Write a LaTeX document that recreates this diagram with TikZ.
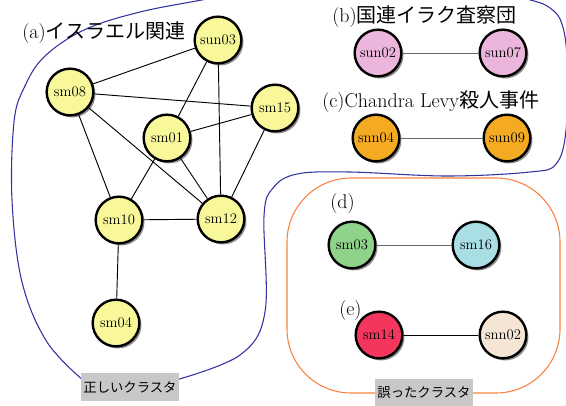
\documentclass[tikz,border=0pt]{standalone}
\usepackage{fontspec}
\newfontfamily\jp{Noto Sans CJK JP}
\usetikzlibrary{shadows}

\definecolor{smyellow}{RGB}{248,248,155}
\definecolor{unpink}{RGB}{236,181,220}
\definecolor{levyorange}{RGB}{244,171,34}
\definecolor{dgreen}{RGB}{143,211,138}
\definecolor{dblue}{RGB}{169,222,229}
\definecolor{ered}{RGB}{244,54,94}
\definecolor{ebeige}{RGB}{245,229,213}
\definecolor{okline}{RGB}{50,50,160}
\definecolor{ngline}{RGB}{250,130,60}
\definecolor{tagbox}{RGB}{200,200,200}

\begin{document}
\begin{tikzpicture}[x=0.75pt,y=-0.75pt,
        vtx/.style={circle,draw,line width=1.8pt,minimum size=35pt,inner sep=0pt,
            font=\fontsize{11}{12}\selectfont,
            drop shadow={shadow xshift=1.6pt,shadow yshift=-1.6pt,fill=black!60,opacity=.75}},
        edge/.style={line width=0.7pt},
        gedge/.style={line width=0.7pt,black!60},
        grp/.style={anchor=west,inner sep=0pt,font=\fontsize{15}{18}\selectfont},
        tag/.style={fill=tagbox,minimum width=73pt,minimum height=21pt,inner sep=0pt,
            font=\jp\fontsize{10}{12}\selectfont}]
    \useasboundingbox (0,0) rectangle (566,405);

    % cluster outlines
    \begin{scope}
        \clip (0,0) rectangle (566,405);
        \draw[okline,line width=0.8pt] plot[smooth,tension=0.6] coordinates {
            (84,381) (47,342) (22,282) (12,200) (14,122) (24,88) (44,57) (84,30)
            (140,12) (212,-2) (300,-20) (450,-20) (527,-1) (550,8) (562,24)
            (567,60) (566,130) (556,164) (530,172) (447,176) (350,172) (297,174)
            (273,188) (264,216) (265,312) (240,355) (176,380)};
    \end{scope}
    \draw[ngline,line width=0.8pt,rounded corners=48pt] (287,178) rectangle (560,393);

    \node[tag] (ok) at (130,387) {正しいクラスタ};
    \node[tag] (ng) at (424,393) {誤ったクラスタ};

    % (a)
    \node[grp] (la) at (22,33) {(a)\jp イスラエル関連};
    \node[vtx,fill=smyellow] (sun03) at (218,40) {sun03};
    \node[vtx,fill=smyellow] (sm08) at (70,92) {sm08};
    \node[vtx,fill=smyellow] (sm15) at (275,108) {sm15};
    \node[vtx,fill=smyellow] (sm01) at (167,138) {sm01};
    \node[vtx,fill=smyellow] (sm10) at (119,220) {sm10};
    \node[vtx,fill=smyellow] (sm12) at (221,219) {sm12};
    \node[vtx,fill=smyellow] (sm04) at (116,323) {sm04};

    % (b)
    \node[grp] (lb) at (332,17) {(b)\jp 国連イラク査察団};
    \node[vtx,fill=unpink] (sun02) at (378,53) {sun02};
    \node[vtx,fill=unpink] (sun07) at (503,53) {sun07};

    % (c)
    \node[grp] (lc) at (322,102) {(c)Chandra Levy\jp 殺人事件};
    \node[vtx,fill=levyorange] (snn04) at (376,138) {snn04};
    \node[vtx,fill=levyorange] (sun09) at (507,138) {sun09};

    % (d)
    \node[grp] (ld) at (330,203) {(d)};
    \node[vtx,fill=dgreen] (sm03) at (352,245) {sm03};
    \node[vtx,fill=dblue] (sm16) at (476,245) {sm16};

    % (e)
    \node[grp] (le) at (339,310) {(e)};
    \node[vtx,fill=ered] (sm14) at (379,335) {sm14};
    \node[vtx,fill=ebeige] (snn02) at (503,335) {snn02};

    % edges
    \draw[edge] (sun03) -- (sm08);
    \draw[edge] (sun03) -- (sm01);
    \draw[edge] (sun03) -- (sm12);
    \draw[edge] (sm08) -- (sm15);
    \draw[edge] (sm08) -- (sm10);
    \draw[edge] (sm08) -- (sm12);
    \draw[edge] (sm01) -- (sm15);
    \draw[edge] (sm01) -- (sm10);
    \draw[edge] (sm01) -- (sm12);
    \draw[edge] (sm15) -- (sm12);
    \draw[edge] (sm10) -- (sm12);
    \draw[edge] (sm10) -- (sm04);
    \draw[gedge] (sun02) -- (sun07);
    \draw[gedge] (snn04) -- (sun09);
    \draw[gedge] (sm03) -- (sm16);
    \draw[edge] (sm14) -- (snn02);
\end{tikzpicture}
\end{document}
